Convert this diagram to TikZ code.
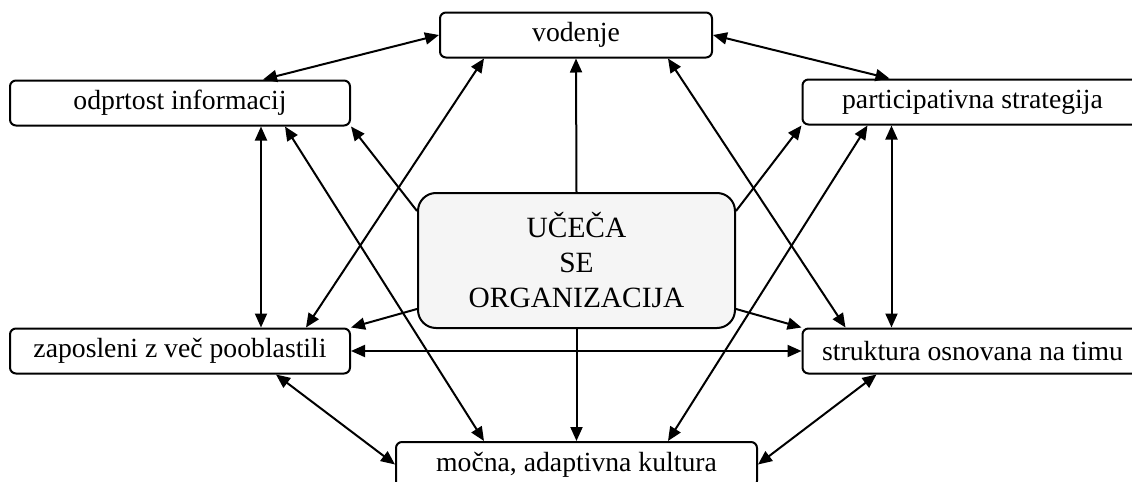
\documentclass[tikz,border=0pt]{standalone}
\usepackage{fontspec}
\setmainfont{Liberation Serif}
\usetikzlibrary{arrows.meta, positioning, calc}

\begin{document}
\begin{tikzpicture}[x=0.5pt, y=-0.5pt, line width=1pt, >={Triangle[length=7pt,width=6pt]},
    every node/.style={align=center},
    box/.style={draw, rounded corners=3pt, fill=white, minimum width=170pt, minimum height=22.5pt, font=\fontsize{13.85}{16}\selectfont}]
    \clip (0,0) rectangle (1132,482);

    \node[box, minimum width=136pt] (vod) at (576,35) {vodenje};
    \node[box] (odp) at (180,103) {odprtost informacij};
    \node[box] (par) at (972.5,102) {participativna strategija};
    \node[box] (zap) at (180,351) {zaposleni z več pooblastili};
    \node[box] (str) at (972.5,351) {struktura osnovana na timu};
    \node[box, minimum width=180.5pt] (moc) at (576.5,464.5) {močna, adaptivna kultura};

    \node[draw, rounded corners=9pt, fill=black!4, minimum width=158.5pt, minimum height=67.5pt,
          font=\fontsize{14.7}{17.5}\selectfont] (uco) at (576.5,260.5) {UČEČA\\SE\\ORGANIZACIJA};

    % iz sredine navzven
    \draw[->] (uco.north) -- (vod.south);
    \draw[->] (uco.south) -- (moc.north);
    \draw[->] ([yshift=-9.5pt]uco.north west) -- (odp.south east);
    \draw[->] ([yshift=-9.5pt]uco.north east) -- (par.south west);
    \draw[->] ([yshift=10pt]uco.south west) -- (zap.north east);
    \draw[->] ([yshift=10pt]uco.south east) -- (str.north west);

    % med elementi
    \draw[<->] ([xshift=-44pt]odp.north east) -- (vod.west);
    \draw[<->] (vod.east) -- ([xshift=44pt]par.north west);
    \draw[<->] ([xshift=-45pt]odp.south east) -- ([xshift=-45pt]zap.north east);
    \draw[<->] ([xshift=45pt]par.south west) -- ([xshift=45pt]str.north west);
    \draw[<->] (zap.east) -- (str.west);
    \draw[<->] ([xshift=-37.5pt]zap.south east) -- (moc.west);
    \draw[<->] ([xshift=37.5pt]str.south west) -- (moc.east);
    \draw[<->] ([xshift=22.5pt]vod.south west) -- ([xshift=-22.5pt]zap.north east);
    \draw[<->] ([xshift=-22.5pt]vod.south east) -- ([xshift=22pt]str.north west);
    \draw[<->] ([xshift=-33pt]odp.south east) -- ([xshift=44.5pt]moc.north west);
    \draw[<->] ([xshift=33pt]par.south west) -- ([xshift=-45pt]moc.north east);
\end{tikzpicture}
\end{document}
